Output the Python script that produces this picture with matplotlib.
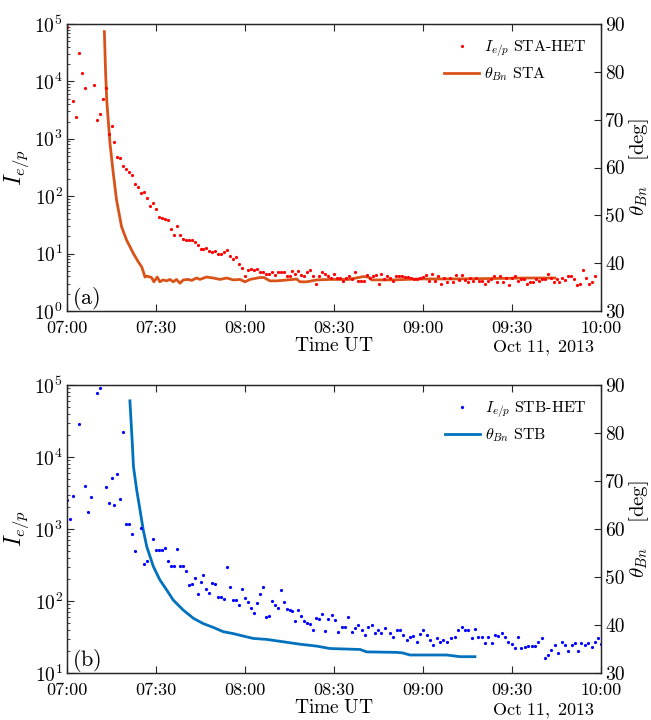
import numpy as np
import matplotlib
matplotlib.use("Agg")
import matplotlib.pyplot as plt
from matplotlib.ticker import FixedLocator, FuncFormatter, LogLocator, NullFormatter

plt.rcParams['mathtext.fontset'] = 'cm'
plt.rcParams['font.family'] = ['cmr10', 'DejaVu Serif']
plt.rcParams['axes.formatter.use_mathtext'] = True

# time is in minutes after 07:00 UT, Oct 11 2013
tick_min = [0, 30, 60, 90, 120, 150, 180]
tick_lbl = ['07:00', '07:30', '08:00', '08:30', '09:00', '09:30', '10:00']

# ---- STA ----
sta_t_head = [0, 2, 3, 4, 5, 6, 9, 10, 11, 12, 13, 14, 15, 16, 17, 18, 19, 20, 21, 22,
              23, 24, 25, 26, 27, 28, 29, 30, 31, 32, 33, 34, 35, 36, 37, 38, 39, 40,
              41, 42, 43, 44, 45, 46, 47, 48, 49, 50, 51, 52, 53, 54, 55, 56, 57, 58,
              59, 60]
sta_i_head = [9e4, 4600, 2400, 3.1e4, 1.4e4, 7800, 8700, 2100, 2700, 4900, 7800, 1230,
              1700, 870, 480, 470, 340, 300, 260, 230, 160, 143, 112, 118, 93, 68, 76,
              60, 44, 41, 40, 38, 27, 21, 30, 21, 18, 17, 17, 17.5, 16, 14, 12, 12, 12.5,
              11, 10.8, 11, 10, 10, 10.8, 11.5, 9, 8.2, 8.7, 6.7, 5.6, 4.1]
# one point per minute from 08:01 on
sta_i_tail = [5.2, 5.5, 5.2, 5.4, 4.7, 4.8, 4.4, 4.4, 4.7, 4.2, 4.8, 4.7, 4.8, 4.1, 4.0,
              4.9, 4.5, 4.9, 4.2, 4.0, 4.8, 5.2, 4.1, 3.0, 4.0, 4.8, 4.5, 4.0, 3.7, 4.5,
              3.8, 3.8, 3.3, 3.7, 4.0, 3.6, 4.7, 3.3, 3.3, 3.3, 4.2, 3.8, 4.0, 4.2, 2.9,
              4.5, 3.6, 4.0, 3.8, 3.3, 4.0, 4.0, 4.0, 3.9, 3.9, 3.7, 3.6,
              3.6, 3.7, 3.9,
              4.3, 3.3, 4.5, 3.3, 4.0, 2.9, 3.8, 3.2, 3.8, 3.2, 4.3, 3.5, 4.2, 3.5, 3.2,
              3.7, 3.3, 3.8, 3.3, 3.3, 2.9, 3.3, 3.6, 4.0, 3.2, 4.1, 3.2, 3.7, 2.8, 3.8,
              4.0, 3.3, 3.6, 3.6, 3.0, 3.2, 3.2, 3.6, 3.3, 3.6, 3.6, 4.5, 3.7, 3.2, 3.6,
              3.2, 3.7, 3.5, 4.1, 4.0, 3.6, 2.8, 2.9, 5.2, 3.8, 3.0, 3.2, 4.0]
sta_t_tail = list(range(61, 61 + len(sta_i_tail)))

sta_th_t = [12.6, 13.0, 13.4, 14.5, 15.6, 16.7, 18.4, 20.1, 22.4, 24.0, 25.2, 26.3, 26.9,
            28.5, 29.3, 30.4, 31.3, 32.4, 33.6, 34.7, 35.8, 36.9, 38.1, 39.2, 40.9, 42.0,
            43.7, 44.8, 47.0, 49.3, 51.6, 53.8, 56.1, 58.3, 60.0, 61.7, 65.0, 66.4, 68.4,
            70.7, 76.3, 77.4, 78.5, 80.8, 84.2, 88.6, 95.0, 99.9, 101.6, 102.7, 110.0,
            118.9, 130.0, 145.0, 155.0, 164.5]
sta_th = [88.4, 80.0, 74.0, 65.0, 58.8, 53.2, 47.6, 44.8, 42.0, 40.3, 39.2, 37.1, 37.3,
          37.0, 36.1, 37.1, 36.1, 36.5, 36.3, 36.6, 36.1, 36.6, 35.8, 36.5, 36.6, 36.4,
          36.9, 36.6, 37.1, 36.9, 36.6, 36.9, 36.5, 36.6, 36.1, 36.6, 37.0, 37.0, 36.3,
          36.3, 36.6, 36.7, 36.1, 36.1, 36.5, 36.6, 36.6, 37.2, 37.1, 36.5, 36.5, 36.7,
          36.7, 36.8, 36.9, 36.9]

# ---- STB ----
stb_t_head = [0, 1, 2, 4, 6, 7, 8, 10, 11, 13, 14, 15, 16, 17, 18, 19, 20, 21, 22, 23,
              25, 26, 27, 29, 30, 31, 32, 33, 34, 35, 36, 37, 38, 39, 40, 41, 42, 43,
              44, 45, 46, 47, 48, 49, 50, 51, 52, 53, 54, 55, 56, 57, 58, 59, 60, 61,
              62, 63, 64, 65, 66, 67, 68, 69, 70, 71, 72, 73, 74, 75, 76, 77, 78, 79,
              80, 81, 82, 83, 84, 85, 86, 87]
stb_i_head = [2500, 1380, 2900, 2.9e4, 4000, 1750, 2800, 7.8e4, 9e4, 3800, 2300, 5100,
              2150, 5800, 2600, 2.2e4, 1170, 1170, 850, 500, 1030, 330, 360, 720, 515,
              515, 515, 550, 355, 310, 310, 525, 310, 310, 265, 165, 170, 210, 125, 183,
              233, 145, 128, 178, 170, 115, 112, 108, 300, 158, 103, 103, 88, 148, 110,
              97, 81, 69, 94, 125, 158, 59, 61, 100, 88, 80, 142, 97, 78, 74, 72, 52, 74,
              62, 53, 49, 48, 40, 58, 57, 65, 38]
stb_i_tail = [56, 63, 54, 37.5, 44, 44, 59, 37.5, 42, 47, 40, 34, 43, 47, 36, 40, 36, 42,
              36, 32, 40, 40, 34, 29, 32, 33, 27, 35, 40, 34, 29, 24.5, 30.5, 27, 29, 27,
              30.5, 32, 39, 43, 40, 39, 30.5, 41, 31.5, 31.5, 26.5, 32, 26, 34, 33, 36,
              31.5, 27, 25, 22.5, 32, 22.5, 23, 23.5, 23.5, 23.5, 27, 30.5, 16, 18, 21,
              24.5, 19, 27, 24.5, 20, 24.5, 26, 20, 26, 24.5, 26, 23, 27, 31, 25]
stb_t_tail = [88.1, 89.2, 90.3, 91.5, 92.6, 93.7, 94.8, 95.9, 97.1, 98.2, 99.3, 100.4,
              101.6, 102.7, 103.8, 104.9, 106.0, 107.2, 108.9, 110.0, 111.1, 112.2, 113.4,
              114.5, 115.6, 116.7, 117.9, 119.0, 120.1, 121.2, 122.3, 123.5, 124.6, 125.7,
              126.8, 128.0, 129.6, 130.8, 131.9, 133.0, 134.2, 135.3, 136.4, 137.5, 138.6,
              139.8, 140.9, 142.0, 143.1, 144.3, 145.4, 146.5, 147.6, 148.7, 149.9, 151.0,
              152.1, 153.2, 154.4, 155.5, 156.6, 157.7, 158.8, 160.0, 161.1, 162.2, 163.3,
              164.5, 165.6, 166.7, 167.8, 169.0, 170.1, 171.2, 172.3, 173.4, 174.6, 175.7,
              176.8, 177.9, 179.1, 180.0]

stb_th_t = [21.2, 22.0, 22.4, 23.5, 24.6, 25.7, 26.9, 29.1, 31.3, 33.6, 35.8, 39.2, 42.6,
            45.9, 49.3, 52.7, 56.1, 59.4, 62.8, 67.3, 72.9, 78.5, 84.2, 88.6, 98.8, 101.0,
            111.0, 113.0, 115.6, 128.0, 132.5, 137.5]
stb_th = [86.7, 78.0, 73.0, 68.1, 64.0, 59.8, 56.3, 52.2, 49.4, 47.3, 45.2, 43.1, 41.4,
          40.3, 39.5, 38.6, 38.2, 37.7, 37.2, 37.0, 36.5, 36.0, 35.6, 35.1, 34.9, 34.4,
          34.3, 34.2, 33.75, 33.75, 33.4, 33.4]

axcol = '#262626'
W, H = 651, 720
fig = plt.figure(figsize=(W / 100, H / 100), dpi=100)


def panel(rect, t_dots, i_dots, t_line, th_line, ylim, dcol, lcol, lab_d, lab_l, tag):
    ax = fig.add_axes(rect)
    ax2 = ax.twinx()
    ax.set_zorder(ax2.get_zorder() + 1)
    ax.patch.set_visible(False)
    hd, = ax.plot(t_dots, i_dots, 'o', ms=2.3, mec='none', color=dcol, label=lab_d)
    hl, = ax2.plot(t_line, th_line, '-', lw=2.0, color=lcol, label=lab_l)
    ax.set_yscale('log')
    ax.set_ylim(*ylim)
    ax.set_xlim(0, 180)
    ax2.set_ylim(30, 90)
    ax.xaxis.set_major_locator(FixedLocator(tick_min))
    ax.set_xticklabels(tick_lbl)
    ax.yaxis.set_major_locator(LogLocator(base=10, numticks=10))
    ax.yaxis.set_minor_locator(LogLocator(base=10, subs=np.arange(2, 10), numticks=20))
    ax.yaxis.set_minor_formatter(NullFormatter())
    ax.yaxis.set_major_formatter(FuncFormatter(lambda v, p: r'$10^{%d}$' % int(round(np.log10(v)))))
    ax2.yaxis.set_major_locator(FixedLocator(range(30, 91, 10)))
    ax2.yaxis.set_major_formatter(FuncFormatter(lambda v, p: '%d' % v))
    for a in (ax, ax2):
        for s in a.spines.values():
            s.set_color(axcol)
            s.set_linewidth(0.9)
    ax.tick_params(which='both', direction='in', top=True, colors=axcol, labelsize=14,
                   labelcolor='black', pad=3)
    ax.tick_params(axis='x', pad=7, labelsize=13)
    ax.tick_params(which='major', length=5)
    ax.tick_params(which='minor', length=2.5)
    ax2.tick_params(direction='in', length=5, colors=axcol, labelsize=14,
                    labelcolor='black', pad=3)
    ax.set_ylabel(r'$I_{e/p}$', fontsize=17, labelpad=2)
    ax2.set_ylabel(r'$\theta_{Bn}\quad\ \mathrm{[deg]}$', fontsize=15, labelpad=2)
    ax.set_xlabel(r'$\mathrm{Time\ UT}$', fontsize=14, labelpad=1)
    ax.text(0.99, -0.132, r'$\mathrm{Oct\ 11,\ 2013}$', transform=ax.transAxes,
            ha='right', va='center', fontsize=13)
    ax.text(0.01, 0.045, r'$\mathrm{(%s)}$' % tag, transform=ax.transAxes,
            ha='left', va='center', fontsize=16)
    ax.legend([hd, hl], [lab_d, lab_l], loc='upper right', frameon=False, fontsize=11.5,
              handlelength=2.2, handletextpad=0.3, borderaxespad=0.5, labelspacing=0.4)
    return ax, ax2


panel([67 / W, 1 - 311 / H, 534 / W, 287 / H],
      sta_t_head + sta_t_tail, sta_i_head + sta_i_tail, sta_th_t, sta_th,
      (1, 1e5), '#ff0000', '#D95319',
      r'$I_{e/p}\ \mathrm{STA}$-$\mathrm{HET}$', r'$\theta_{Bn}\ \mathrm{STA}$', 'a')
panel([67 / W, 1 - 673 / H, 534 / W, 288 / H],
      stb_t_head + stb_t_tail, stb_i_head + stb_i_tail, stb_th_t, stb_th,
      (10, 1e5), '#0000ff', '#0072BD',
      r'$I_{e/p}\ \mathrm{STB}$-$\mathrm{HET}$', r'$\theta_{Bn}\ \mathrm{STB}$', 'b')

fig.savefig('out.png', dpi=100)
